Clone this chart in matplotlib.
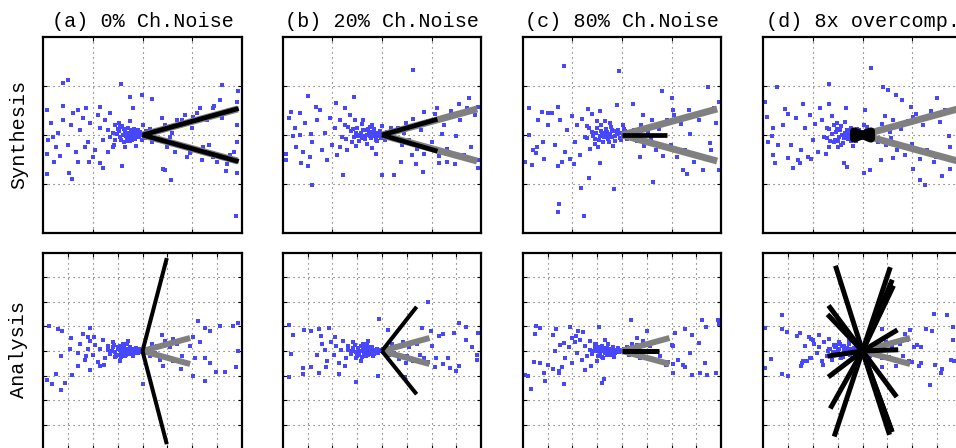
import numpy as np
import matplotlib
matplotlib.use("Agg")
import matplotlib.pyplot as plt

plt.rcParams['font.family'] = ['Liberation Mono', 'DejaVu Sans Mono']

# ---------------- data ----------------
titles = ["(a) 0% Ch.Noise", "(b) 20% Ch.Noise", "(c) 80% Ch.Noise", "(d) 8x overcomp."]
row_labels = ["Synthesis", "Analysis"]

# true (gray) directions, same in every panel
true_dirs = [(1.92, 0.53), (1.92, -0.53)]

# estimated (black) directions, synthesis row
syn_est_a = [(1.94, 0.54), (1.94, -0.54)]
syn_est_b = [(1.12, 0.32), (1.12, -0.33)]
syn_est_c = [(0.91, 0.0)]
syn_est_d = [(0.17, 0.07), (0.17, -0.07), (-0.17, 0.07), (-0.17, -0.07), (0.18, 0.0), (-0.18, 0.0)]

# estimated (black) directions, analysis row
ana_est_a = [(0.98, 3.78), (0.98, -3.79)]
ana_est_b = [(1.40, 1.80), (1.40, -1.76)]
ana_est_c = [(1.49, 0.0)]
ana_est_d = [(-1.09, 3.47), (1.12, 3.41), (1.20, 2.90), (1.25, 2.66), (-1.37, 1.85),
             (-1.41, 1.49), (1.41, 0.86), (-1.41, -0.21), (1.44, 0.05), (-1.38, -1.06),
             (1.38, -1.87), (-1.30, -2.34), (-1.14, -3.48), (1.09, -3.41), (1.16, -3.21),
             (1.20, -3.30)]

syn_a = [(-1.60,1.05),(-1.50,1.11),(-0.44,1.03),(1.61,1.01),(1.93,0.90),(-1.93,0.51),(-1.61,0.59),
         (-1.30,0.51),(-1.14,0.54),(-0.86,0.56),(-0.02,0.81),(0.19,0.73),(-0.26,0.78),(-0.19,0.54),
         (1.56,0.71),(1.91,0.68),(-1.90,-0.10),(-1.93,-0.39),(-1.79,-0.55),(-1.66,-0.43),(-1.48,-0.78),
         (-1.43,-0.90),(-1.93,-0.79),(-1.07,-0.54),(-0.86,-0.57),(-0.79,-0.68),(-0.42,-0.63),(0.42,-0.70),
         (0.46,-0.72),(0.58,-0.91),(0.95,-0.37),(1.22,-0.24),(1.42,-0.44),(1.76,-0.41),(1.91,-0.14),
         (1.68,-0.74),(1.91,-0.78),(1.89,-1.64),(1.15,0.54),(1.42,0.54),(1.02,0.36),(0.79,0.30),
         (-1.6,0.3),(-1.45,0.2),(-1.5,-0.2),(-1.35,-0.35),(-1.2,0.35),(-1.25,0.1),(-1.1,-0.15),(-1.05,0.25),
         (-0.95,-0.3),(-0.9,0.4),(-0.85,0.15),(-0.8,-0.1),(-0.75,0.3),(-0.7,-0.35),(-1.3,-0.55),(-1.7,0.05),
         (-1.75,-0.25),(-1.85,0.25),(-1.0,-0.45),(-0.65,0.45),(-1.4,0.45),(-1.15,-0.25),(-0.6,-0.25),
         (-0.55,0.2),(-1.8,-0.05),
         (-0.6,0.05),(-0.55,-0.1),(-0.5,0.12),(-0.45,-0.05),(-0.42,0.18),(-0.4,0.0),(-0.38,-0.15),(-0.35,0.08),
         (-0.32,-0.06),(-0.3,0.15),(-0.28,0.02),(-0.25,-0.12),(-0.22,0.06),(-0.2,-0.02),(-0.18,0.12),
         (-0.15,-0.08),(-0.12,0.03),(-0.1,0.1),(-0.08,-0.04),(-0.05,0.06),(-0.02,-0.1),(0.0,0.02),(0.05,-0.06),
         (0.08,0.08),(0.12,-0.02),(-0.7,0.1),(-0.65,-0.05),(-0.48,0.25),(-0.36,-0.25),(-0.26,0.28),
         (-0.14,-0.22),(0.02,0.2),(0.15,0.12),(0.2,-0.15),(-0.58,-0.2),
         (-0.52,0.02),(-0.47,0.08),(-0.43,-0.1),(-0.34,-0.02),(-0.31,0.05),(-0.27,-0.05),(-0.24,0.1),
         (-0.17,0.04),(-0.13,-0.03),(-0.06,-0.01),(-0.03,0.03),(-0.37,0.13),(-0.21,-0.1),(-0.46,0.16),
         (-0.3,-0.12),(-0.09,0.06),
         (0.3,0.1),(0.35,-0.12),(0.45,0.2),(0.5,-0.25),(0.6,0.05),(0.65,-0.35),(0.7,0.3),(0.8,-0.2),
         (0.85,0.4),(0.9,-0.45),(1.0,0.15),(1.05,-0.3),(1.1,0.45),(1.2,-0.5),(1.3,0.3),(1.35,-0.2),
         (1.45,0.6),(1.5,-0.55),(1.6,0.35),(1.7,-0.6),(1.75,0.5),(1.85,-0.35),(1.9,0.2),(0.4,0.35),(0.55,-0.05)]

syn_b = [(0.62,1.32),(-1.50,0.79),(-0.56,0.78),(-1.32,0.57),(-0.93,0.66),(-0.74,0.54),(-1.83,0.47),
         (-1.87,0.34),(-1.66,0.44),(1.76,0.76),(1.56,0.64),(1.93,0.57),(1.12,0.54),(0.85,0.47),
         (-1.93,-0.39),(-1.93,-0.51),(-1.63,-0.57),(-1.50,-0.63),(-1.41,-1.01),(-1.73,-0.25),(-0.79,-0.81),
         (0.0,-0.81),(0.25,-0.81),(0.38,-0.55),(0.82,-0.76),(0.68,-0.59),(1.15,-0.57),(1.32,-0.54),
         (1.93,-0.68),(1.93,-0.51),(1.49,-0.03),(1.22,0.03),(-0.12,-0.39),(-1.80,-0.03),(-1.43,0.03),
         (-1.55,0.25),(-1.4,-0.15),(-1.3,0.3),(-1.2,-0.3),(-1.15,0.05),(-1.05,0.35),(-1.0,-0.2),(-0.95,0.15),
         (-0.9,-0.4),(-0.85,0.3),(-0.8,-0.05),(-0.75,0.2),(-0.7,-0.3),(-1.6,-0.35),(-1.75,0.15),(-1.25,0.5),
         (-0.65,0.4),(-0.6,-0.15),(-1.45,-0.45),(-1.1,-0.5),(-0.55,0.3),(-1.65,0.0),(-0.85,-0.25),
         (-0.62,0.08),(-0.56,-0.05),(-0.5,0.15),(-0.46,-0.12),(-0.42,0.04),(-0.4,0.22),(-0.36,-0.02),
         (-0.33,0.1),(-0.3,-0.18),(-0.27,0.05),(-0.24,0.16),(-0.21,-0.07),(-0.18,0.02),(-0.15,0.12),
         (-0.12,-0.1),(-0.1,0.05),(-0.07,-0.02),(-0.04,0.09),(-0.02,-0.06),(0.02,0.03),(0.06,-0.1),(0.1,0.06),
         (-0.72,-0.08),(-0.68,0.16),(-0.52,-0.22),(-0.38,0.3),(-0.2,-0.26),(0.0,0.18),(0.14,-0.04),(0.18,0.14),
         (-0.44,0.0),(-0.3,0.0),
         (-0.53,0.04),(-0.48,-0.02),(-0.39,0.1),(-0.35,-0.08),(-0.29,0.12),(-0.25,-0.03),(-0.22,0.07),
         (-0.16,-0.02),(-0.13,0.05),(-0.05,0.0),(-0.41,-0.07),(-0.19,0.2),(-0.58,0.12),(-0.09,-0.13),
         (0.28,-0.08),(0.32,0.15),(0.4,-0.2),(0.48,0.25),(0.55,-0.1),(0.62,0.32),(0.7,-0.28),(0.78,0.1),
         (0.85,-0.38),(0.92,0.28),(1.0,-0.15),(1.08,0.42),(1.15,-0.42),(1.25,0.2),(1.32,-0.28),(1.4,0.48),
         (1.48,-0.6),(1.58,0.3),(1.65,-0.4),(1.72,0.55),(1.8,-0.25),(1.88,0.4),(0.45,0.05),(0.6,-0.4)]

syn_c = [(-1.17,1.40),(-0.05,1.30),(1.74,0.98),(0.81,0.90),(1.01,0.76),(1.95,0.68),(1.85,0.54),
         (-1.88,0.54),(-1.61,0.47),(-1.28,0.56),(-1.48,0.44),(-0.69,0.52),(-0.44,0.49),(0.23,0.63),
         (-0.10,0.61),(1.04,0.51),(-1.95,-0.54),(-1.81,-0.61),(-1.74,-0.36),(-1.58,-0.49),(-1.28,-0.64),
         (-0.96,-0.59),(-0.44,-0.57),(-0.67,-0.88),(-0.83,-1.08),(-0.15,-1.10),(0.62,-0.95),(-1.26,-1.40),
         (-1.28,-1.57),(-0.77,-1.64),(1.24,-0.72),(1.31,-0.79),(1.64,-0.71),(1.95,-0.72),(1.78,-0.17),
         (1.38,0.03),(-1.88,0.0),(-1.71,-0.24),(0.37,-0.44),
         (-1.5,0.2),(-1.35,-0.2),(-1.25,0.3),(-1.15,-0.35),(-1.1,0.1),(-1.0,0.38),(-0.95,-0.15),(-0.9,0.2),
         (-0.85,-0.4),(-0.8,0.32),(-0.75,-0.05),(-0.7,0.18),(-0.65,-0.28),(-1.6,-0.15),(-1.7,0.3),(-1.2,-0.55),
         (-0.6,0.42),(-0.55,-0.18),(-1.4,0.45),(-1.05,-0.48),(-0.5,0.28),(-1.8,-0.3),
         (-0.6,0.06),(-0.55,-0.08),(-0.5,0.14),(-0.45,-0.02),(-0.42,0.2),(-0.38,-0.14),(-0.35,0.04),
         (-0.32,0.12),(-0.28,-0.08),(-0.25,0.02),(-0.22,0.16),(-0.19,-0.04),(-0.16,0.08),(-0.13,-0.12),
         (-0.1,0.02),(-0.07,0.1),(-0.04,-0.06),(-0.01,0.04),(0.03,-0.02),(0.07,0.08),(0.1,-0.08),(-0.7,-0.06),
         (-0.66,0.14),(-0.48,-0.24),(-0.34,0.28),(-0.18,-0.22),(0.02,0.2),(0.14,0.02),(-0.4,0.02),(-0.28,0.0),
         (-0.52,0.04),(-0.47,-0.1),(-0.43,0.08),(-0.36,-0.04),(-0.3,0.06),(-0.26,-0.14),(-0.2,0.1),
         (-0.14,-0.03),(-0.08,0.04),(-0.02,-0.1),(-0.58,-0.03),(-0.24,0.24),(0.05,0.12),
         (0.25,0.1),(0.3,-0.12),(0.38,0.2),(0.45,-0.22),(0.52,0.05),(0.6,0.3),(0.68,-0.3),(0.75,0.12),
         (0.82,-0.42),(0.9,0.3),(0.98,-0.2),(1.05,0.4),(1.12,-0.45),(1.2,0.22),(1.28,-0.3),(1.36,0.5),
         (1.45,-0.55),(1.55,0.3),(1.62,-0.45),(1.7,0.45),(1.8,-0.3),(1.9,0.25),(0.42,0.4),(0.58,-0.08)]

syn_d = [(0.17,1.36),(-0.68,1.03),(-1.72,0.97),(0.42,0.97),(0.52,0.91),(0.67,0.82),(0.79,0.72),
         (0.97,0.57),(1.50,0.76),(1.66,0.51),(-1.97,0.68),(-1.93,0.37),(-1.56,0.52),(-1.19,0.64),
         (-0.86,0.54),(-0.67,0.63),(-0.34,0.54),(0.05,0.51),(1.02,0.36),(1.56,0.27),(1.74,-0.03),
         (1.77,-0.24),(-1.83,-0.02),(-1.80,-0.41),(-1.77,-0.57),(-1.40,-0.68),(-1.26,-0.57),(-1.50,-0.47),
         (-1.03,-0.49),(-0.74,-0.39),(-0.38,-0.57),(-0.31,-0.66),(0.03,-0.78),(0.15,-0.72),(0.38,-0.51),
         (0.62,-0.47),(1.02,-0.70),(1.15,-0.91),(1.26,-1.01),(1.49,-0.44),(1.76,-0.70),(1.61,-0.83),
         (-1.6,0.2),(-1.45,-0.2),(-1.35,0.35),(-1.25,-0.3),(-1.15,0.15),(-1.05,0.4),(-1.0,-0.1),(-0.95,0.22),
         (-0.9,-0.35),(-0.82,0.3),(-0.78,-0.05),(-0.72,0.15),(-0.68,-0.25),(-1.7,-0.2),(-1.8,0.15),(-1.3,-0.5),
         (-0.62,0.38),(-0.58,-0.15),(-1.5,0.42),(-1.1,-0.45),(-0.52,0.25),(-1.9,-0.15),
         (-0.62,0.02),(-0.56,-0.1),(-0.52,0.12),(-0.47,-0.04),(-0.43,0.18),(-0.39,-0.16),(-0.36,0.05),
         (-0.32,0.1),(-0.29,-0.09),(-0.26,0.0),(-0.23,0.14),(-0.2,-0.05),(-0.17,0.07),(-0.14,-0.13),
         (-0.11,0.03),(-0.08,0.11),(-0.05,-0.07),(-0.02,0.04),(0.04,-0.03),(0.08,0.09),(0.12,-0.09),
         (-0.72,-0.06),(-0.68,0.13),(-0.5,-0.25),(-0.35,0.27),(-0.19,-0.23),(0.03,0.21),(0.16,0.03),
         (-0.41,0.0),(-0.3,-0.02),
         (-0.54,0.06),(-0.49,-0.12),(-0.45,0.1),(-0.38,-0.06),(-0.33,0.02),(-0.27,0.08),(-0.24,-0.12),
         (-0.16,0.0),(-0.12,0.12),(-0.58,0.2),(-0.44,-0.2),(-0.65,-0.12),(0.1,0.16),
         (0.25,0.08),(0.32,-0.14),(0.4,0.22),(0.48,-0.2),(0.55,0.06),(0.62,0.3),(0.7,-0.3),(0.78,0.12),
         (0.85,-0.4),(0.92,0.28),(1.0,-0.18),(1.08,0.42),(1.15,-0.48),(1.22,0.2),(1.3,-0.3),(1.38,0.48),
         (1.45,-0.55),(0.45,0.38),(0.58,-0.06)]

ana_a = [(-3.76,1.02),(-3.40,0.91),(-3.23,0.81),(-2.90,0.54),(-2.39,0.68),(-2.12,0.95),(-2.19,0.58),
         (2.24,1.22),(2.04,0.58),(2.51,0.92),(2.72,0.81),(3.12,1.02),(3.66,1.02),(3.86,1.15),(3.86,0.0),
         (2.98,-0.85),(3.32,-0.85),(3.79,-0.64),(2.51,-0.27),(2.74,-0.47),(2.02,-1.02),(2.51,-1.22),
         (-3.87,-1.18),(-3.63,-1.36),(-3.27,-1.59),(-3.13,-1.29),(-2.86,-0.99),(-3.47,-0.95),(-2.59,-0.61),
         (-2.28,-0.20),(-2.12,-0.77),(-1.72,-0.61),(0.03,-1.36),(0.83,-0.61),(1.24,-0.41),(1.57,-0.75),
         (0.77,0.64),(1.24,0.47),(-2.93,0.07),(-3.27,-0.20),
         (-2.5,0.3),(-2.3,-0.35),(-2.1,0.4),(-2.0,-0.15),(-1.9,0.25),(-1.8,-0.45),(-1.7,0.1),(-1.6,0.45),
         (-1.5,-0.3),(-1.4,0.2),(-1.3,-0.1),(-1.2,0.35),(-1.1,-0.25),(-1.0,0.15),(-0.9,-0.4),(-0.8,0.3),
         (-2.6,-0.1),(-2.2,0.1),(-1.95,0.55),(-1.55,-0.55),(-0.7,-0.2),(-0.6,0.4),
         (-1.4,0.05),(-1.3,-0.12),(-1.2,0.15),(-1.1,-0.03),(-1.0,0.1),(-0.95,-0.15),(-0.9,0.2),(-0.85,0.02),
         (-0.8,-0.1),(-0.75,0.12),(-0.7,0.0),(-0.65,-0.18),(-0.6,0.08),(-0.55,-0.05),(-0.5,0.16),
         (-0.45,-0.12),(-0.4,0.03),(-0.35,0.1),(-0.3,-0.08),(-0.25,0.05),(-0.2,-0.02),(-0.15,0.08),
         (-0.1,-0.05),(-0.05,0.02),(0.05,-0.06),(-1.15,0.25),(-0.85,-0.25),(-0.62,0.28),(-0.38,-0.22),
         (-1.05,-0.2),
         (-0.92,0.06),(-0.78,0.16),(-0.68,-0.08),(-0.52,0.04),(-0.42,-0.02),(-0.28,0.12),(-0.18,-0.1),
         (-1.25,0.02),(-0.58,-0.14),(-0.33,0.0),
         (0.2,0.1),(0.3,-0.2),(0.4,0.3),(0.5,-0.1),(0.6,0.2),(0.7,-0.35),(0.9,0.4),(1.0,-0.25),(1.1,0.15),
         (1.3,-0.4),(1.4,0.3),(1.6,-0.2),(1.7,0.45),(1.8,-0.5),(1.9,0.2),(2.1,-0.3),(2.3,0.35)]

ana_b = [(1.84,2.01),(-0.11,1.29),(-3.76,1.06),(-3.60,0.65),(-3.13,0.85),(-2.86,0.83),(-2.53,0.88),
         (-2.15,0.92),(-2.46,0.61),(-3.67,-0.12),(-3.20,-0.70),(-3.76,-1.07),(-3.20,-0.93),(-2.86,-0.64),
         (-2.53,-0.88),(-2.26,-0.64),(-1.72,-0.93),(-1.05,-1.25),(-0.17,-1.02),(0.23,0.85),(1.61,0.92),
         (1.98,0.83),(2.31,0.61),(2.47,0.69),(2.92,0.75),(3.09,1.15),(3.39,0.96),(3.41,0.45),(3.63,0.18),
         (3.86,0.72),(3.82,-0.16),(3.82,-0.37),(2.65,-0.30),(2.45,-0.53),(2.15,-0.64),(2.74,-0.70),
         (3.12,-0.61),(2.98,-0.80),(0.97,-0.50),(1.71,-0.30),(0.94,-1.04),
         (-2.4,0.3),(-2.2,-0.4),(-2.05,0.35),(-1.95,-0.15),(-1.85,0.2),(-1.75,-0.5),(-1.65,0.05),(-1.55,0.4),
         (-1.45,-0.3),(-1.35,0.22),(-1.25,-0.12),(-1.15,0.38),(-1.05,-0.28),(-0.95,0.12),(-0.85,-0.42),
         (-0.75,0.3),(-2.6,-0.15),(-2.3,0.05),(-1.9,0.55),(-1.5,-0.6),(-0.65,-0.22),(-0.55,0.42),
         (-1.35,0.04),(-1.25,-0.1),(-1.15,0.14),(-1.05,-0.04),(-0.98,0.1),(-0.92,-0.16),(-0.86,0.2),
         (-0.8,0.0),(-0.74,-0.1),(-0.68,0.12),(-0.62,0.02),(-0.56,-0.16),(-0.5,0.08),(-0.44,-0.05),
         (-0.38,0.15),(-0.32,-0.11),(-0.26,0.03),(-0.2,0.1),(-0.14,-0.08),(-0.08,0.05),(-0.02,-0.02),
         (0.04,0.07),(-1.1,0.26),(-0.82,-0.26),(-0.6,0.28),(-0.36,-0.22),(-1.0,-0.2),(-0.7,0.05),
         (-0.9,0.02),(-0.77,0.14),(-0.65,-0.06),(-0.53,0.16),(-0.47,-0.12),(-0.35,0.04),(-0.23,-0.04),
         (-1.2,0.0),(-0.58,0.0),(-0.41,0.08),
         (0.2,0.12),(0.3,-0.18),(0.4,0.28),(0.5,-0.08),(0.6,0.22),(0.7,-0.32),(0.85,0.38),(1.0,-0.22),
         (1.1,0.18),(1.25,-0.42),(1.4,0.3),(1.55,-0.18),(1.7,0.48),(1.85,-0.45),(2.0,0.22),(2.2,-0.28)]

ana_c = [(0.38,1.26),(-3.49,0.68),(-3.45,1.02),(-3.32,0.95),(-2.78,0.64),(-2.65,0.91),(-2.11,0.99),
         (-1.79,0.81),(-1.57,0.77),(-0.94,0.99),(-2.02,0.54),(-2.35,0.34),(3.23,1.26),(3.40,0.99),
         (3.86,1.26),(3.90,1.08),(2.82,0.64),(3.09,0.31),(2.76,-0.07),(2.55,0.91),(2.15,0.75),(1.01,0.81),
         (0.60,0.54),(2.08,0.20),(-3.90,-0.99),(-3.80,-1.02),(-3.67,-1.56),(-3.16,-0.91),(-3.53,-0.45),
         (-3.32,-0.47),(-2.96,-0.58),(-2.76,-0.75),(-2.55,-0.81),(-2.55,-0.91),(-2.33,-1.36),(-3.12,-1.22),
         (-1.48,-0.79),(-0.81,-1.29),(-0.74,-1.12),(2.82,-0.99),(3.16,-0.91),(3.36,-0.50),(3.80,-0.88),
         (3.43,-0.99),(2.46,-0.58),(2.55,-0.64),(2.08,-0.54),(1.79,-0.58),(2.08,-0.88),
         (-2.5,0.25),(-2.3,-0.3),(-2.15,0.15),(-2.0,-0.5),(-1.9,0.35),(-1.8,-0.1),(-1.7,0.45),(-1.6,-0.35),
         (-1.5,0.2),(-1.4,-0.2),(-1.3,0.4),(-1.2,-0.05),(-1.1,0.3),(-1.0,-0.4),(-0.9,0.18),(-0.8,-0.25),
         (-2.7,0.0),(-2.4,-0.65),(-1.85,0.6),(-1.25,-0.6),(-0.7,0.45),(-0.6,-0.15),
         (-1.3,0.06),(-1.2,-0.12),(-1.1,0.14),(-1.0,0.0),(-0.93,0.12),(-0.87,-0.14),(-0.8,0.22),(-0.74,0.02),
         (-0.68,-0.1),(-0.62,0.14),(-0.56,0.0),(-0.5,-0.18),(-0.45,0.1),(-0.4,-0.04),(-0.34,0.16),
         (-0.28,-0.1),(-0.22,0.04),(-0.16,0.12),(-0.1,-0.06),(-0.04,0.06),(0.02,-0.02),(0.08,0.08),
         (-1.05,0.28),(-0.78,-0.28),(-0.55,0.3),(-0.3,-0.24),(-0.95,-0.22),(-0.65,0.04),
         (-0.85,0.04),(-0.71,0.12),(-0.59,-0.06),(-0.48,0.04),(-0.37,0.08),(-0.25,-0.02),(-0.13,0.02),
         (-1.15,0.02),(-0.53,-0.1),(-0.43,-0.16),
         (0.2,0.15),(0.3,-0.18),(0.42,0.3),(0.5,-0.1),(0.62,0.25),(0.72,-0.3),(0.85,0.4),(0.98,-0.25),
         (1.12,0.2),(1.25,-0.38),(1.4,0.35),(1.55,-0.22),(1.7,0.5),(1.85,-0.45),(2.0,0.25),(2.25,-0.35)]

ana_d = [(-3.25,1.45),(-3.92,0.95),(-3.23,0.88),(-3.06,0.77),(-2.66,0.61),(-2.53,0.75),(-2.15,0.58),
         (-2.08,0.50),(-1.77,0.64),(-1.34,0.47),(-3.70,-0.34),(-3.92,-0.68),(-3.25,-0.95),(-3.02,-1.02),
         (-2.49,-0.61),(-2.42,-0.47),(-2.22,-0.41),(-2.08,-0.27),(2.89,1.49),(3.39,1.45),(3.63,0.99),
         (3.66,0.45),(2.80,0.81),(2.58,0.88),(1.91,0.85),(1.72,0.68),(2.08,0.18),(2.35,0.18),(1.88,-0.41),
         (2.28,-0.61),(2.35,-0.47),(2.72,-1.40),(2.93,-0.58),(3.16,-0.91),(3.20,-0.72),(3.56,-0.37),
         (3.70,-0.41),(0.78,0.91),(1.48,0.37),(1.34,-0.61),(0.78,-0.64),
         (-2.3,0.2),(-2.1,-0.3),(-1.95,0.3),(-1.85,-0.1),(-1.75,0.15),(-1.65,-0.4),(-1.55,0.35),(-1.45,-0.2),
         (-1.35,0.1),(-1.25,-0.35),(-1.15,0.25),(-1.05,-0.15),(-0.95,0.35),(-0.85,-0.3),(-0.75,0.2),
         (-2.4,-0.4),(-2.0,0.45),(-1.6,-0.55),(-0.65,-0.1),(-0.55,0.4),
         (-1.3,0.08),(-1.2,-0.08),(-1.1,0.16),(-1.0,0.02),(-0.94,0.1),(-0.88,-0.12),(-0.82,0.2),(-0.76,0.04),
         (-0.7,-0.06),(-0.64,0.14),(-0.58,0.0),(-0.52,-0.16),(-0.46,0.1),(-0.4,-0.02),(-0.34,0.14),
         (-0.28,-0.08),(-0.22,0.05),(-0.16,0.12),(-0.1,-0.05),(-0.04,0.06),(0.04,-0.02),(-1.05,0.25),
         (-0.8,-0.24),(-0.56,0.28),(-0.32,-0.2),(-0.9,0.3),
         (-1.15,-0.04),(-0.97,-0.08),(-0.73,0.12),(-0.61,-0.12),(-0.49,0.0),(-0.37,0.06),(-0.25,-0.12),
         (-0.67,0.02),(-1.4,0.0),
         (0.2,0.1),(0.3,-0.2),(0.45,0.25),(0.55,-0.12),(0.65,0.2),(0.8,-0.3),(0.95,0.35),(1.05,-0.25),
         (1.2,0.15),(1.35,-0.4),(1.5,0.3),(1.65,-0.2),(1.8,0.45),(2.0,-0.45),(2.2,0.25)]

syn_points = [syn_a, syn_b, syn_c, syn_d]
ana_points = [ana_a, ana_b, ana_c, ana_d]
syn_ests = [syn_est_a, syn_est_b, syn_est_c, syn_est_d]
ana_ests = [ana_est_a, ana_est_b, ana_est_c, ana_est_d]

# ---------------- layout ----------------
W, H = 956, 448
fig = plt.figure(figsize=(W / 100, H / 100), dpi=100)
lefts_px = [43.3, 282.7, 522.7, 763.3]
ax_w_px, ax_h_px = 198.4, 196.6
top_row_top_px = 36.7
bot_row_top_px = 252.7

scatter_color = (0.28, 0.28, 1.0)
gray = (0.5, 0.5, 0.5)


def style_axes(ax, lim, ticks):
    ax.set_xlim(-lim, lim)
    ax.set_ylim(-lim, lim)
    ax.set_xticks(ticks)
    ax.set_yticks(ticks)
    ax.set_xticklabels([])
    ax.set_yticklabels([])
    ax.tick_params(direction='in', length=3, width=0.8, top=True, right=True)
    for s in ax.spines.values():
        s.set_linewidth(1.6)
        s.set_color('black')
    ax.grid(True, color='0.35', linewidth=0.8, linestyle=(0, (1, 3.5)))
    ax.set_axisbelow(True)


for row in range(2):
    top_px = top_row_top_px if row == 0 else bot_row_top_px
    bottom_frac = 1 - (top_px + ax_h_px) / H
    for col in range(4):
        ax = fig.add_axes([lefts_px[col] / W, bottom_frac, ax_w_px / W, ax_h_px / H])
        if row == 0:
            style_axes(ax, 2, [-1, 0, 1])
            pts = np.array(syn_points[col])
            ests = syn_ests[col]
            gray_lw, black_lw = 5.0, 3.4
        else:
            style_axes(ax, 4, [-3, -2, -1, 0, 1, 2, 3])
            pts = np.array(ana_points[col])
            ests = ana_ests[col]
            gray_lw, black_lw = 4.3, 2.9 if col < 2 else 3.6
        ax.scatter(pts[:, 0], pts[:, 1], s=7, marker='s', color=scatter_color,
                   linewidths=0, zorder=2)
        for (dx, dy) in true_dirs:
            ax.plot([0, dx], [0, dy], color=gray, lw=gray_lw, solid_capstyle='butt', zorder=3)
        bowtie = (row == 0 and col == 3)
        cap = 'round' if bowtie else 'butt'
        lw = 6.0 if bowtie else black_lw
        for (dx, dy) in ests:
            ax.plot([0, dx], [0, dy], color='black', lw=lw, solid_capstyle=cap, zorder=4)
        if row == 0:
            ax.set_title(titles[col], fontsize=14.5, pad=7)

fig.text(18.5 / W, 1 - 134 / H, row_labels[0], rotation=90, ha='center', va='center', fontsize=14.5)
fig.text(18.5 / W, 1 - 349 / H, row_labels[1], rotation=90, ha='center', va='center', fontsize=14.5)

fig.savefig("out.png", dpi=100)
